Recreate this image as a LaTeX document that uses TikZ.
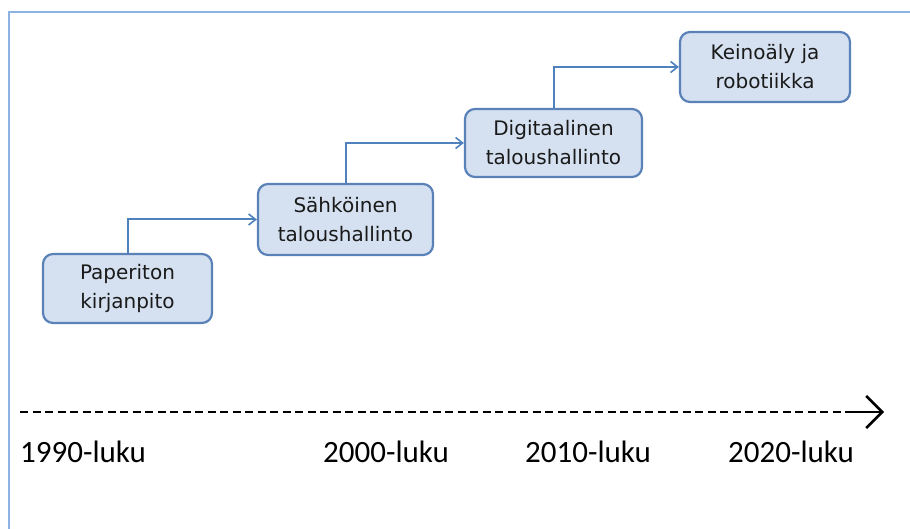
\documentclass[tikz,border=0pt]{standalone}
\usepackage{fontspec}
\setmainfont{DejaVu Sans}
\newfontfamily\lblfont{Carlito}
\usetikzlibrary{arrows.meta}
\definecolor{frameblue}{HTML}{8DB3E2}
\definecolor{boxfill}{HTML}{D5E1F1}
\definecolor{boxline}{HTML}{5A81B8}
\definecolor{connblue}{HTML}{4F81BD}
\definecolor{boxtext}{HTML}{1A1A1A}
\tikzset{
  stagebox/.style={draw=boxline, line width=2.2pt, fill=boxfill, rounded corners=10pt,
    minimum height=69pt, align=center, text=boxtext, font=\fontsize{20}{29}\selectfont, inner sep=0pt},
  conn/.style={draw=connblue, line width=2pt, -{Straight Barb[length=7pt,width=11pt,line width=1.6pt]}},
  yearlbl/.style={anchor=west, font=\lblfont\fontsize{31}{34}\selectfont, inner sep=0pt},
}
\begin{document}
\begin{tikzpicture}[x=1pt,y=-1pt]
\useasboundingbox (0,0) rectangle (910,529);
\draw[frameblue, line width=2pt] (9,529) -- (9,12) -- (910,12);
\node[stagebox, minimum width=169pt] (p) at (127.5,288.5) {Paperiton\\kirjanpito};
\node[stagebox, minimum width=175pt, minimum height=71pt] (s) at (345.5,219.5) {Sähköinen\\taloushallinto};
\node[stagebox, minimum width=177pt, minimum height=68pt] (d) at (553.5,143) {Digitaalinen\\taloushallinto};
\node[stagebox, minimum width=170pt, minimum height=70pt] (k) at (765,67) {Keinoäly ja\\robotiikka};
\draw[conn] (p.north) |- (s.west);
\draw[conn] (s.north) |- (d.west);
\draw[conn] (d.north) |- (k.west);
\coordinate (t0) at (20,412);
\coordinate (t1) at (847,412);
\coordinate (t2) at (884,412);
\draw[black, line width=2.6pt, dash pattern=on 8pt off 4.5pt] (t0) -- (t1);
\draw[black, line width=2.6pt, -{Straight Barb[length=16pt,width=32pt,line width=2.6pt]}] (t1) -- (t2);
\node[yearlbl] (y1) at (20,452) {1990-luku};
\node[yearlbl] (y2) at (323,452) {2000-luku};
\node[yearlbl] (y3) at (525,452) {2010-luku};
\node[yearlbl] (y4) at (728,452) {2020-luku};
\end{tikzpicture}
\end{document}
